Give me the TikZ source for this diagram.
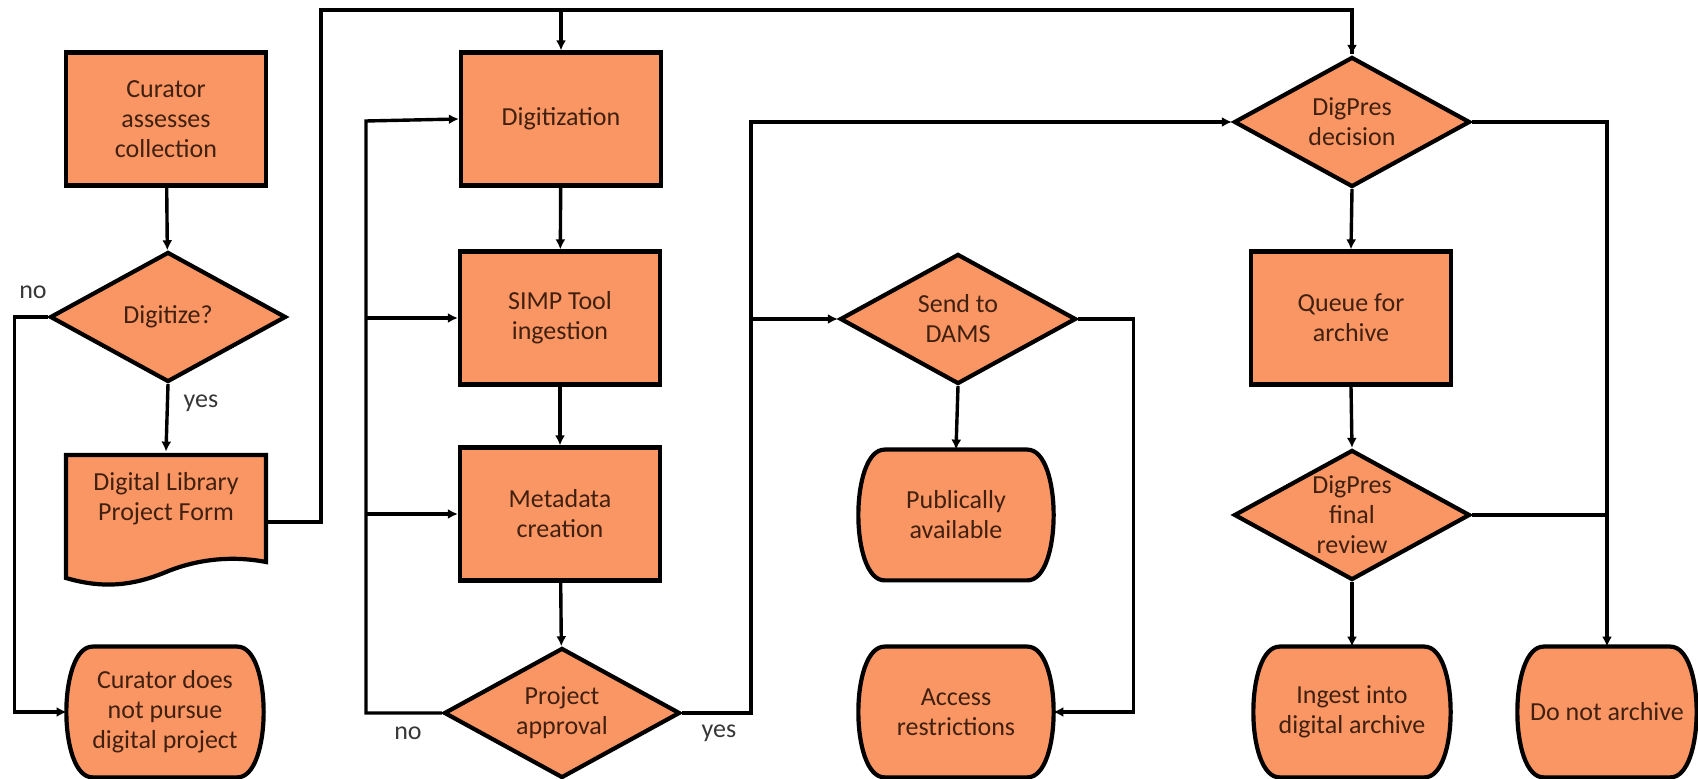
\documentclass[tikz,border=0pt]{standalone}
\usepackage{fontspec}
\setmainfont{Carlito}
\usetikzlibrary{shapes.geometric,arrows.meta,backgrounds,calc}
\definecolor{boxfill}{RGB}{250,150,100}
\definecolor{txt}{RGB}{65,32,15}
\definecolor{labtxt}{RGB}{55,55,55}
\tikzset{
  base/.style={font=\fontsize{13}{15}\selectfont, text=txt, align=center, inner sep=0pt},
  proc/.style={base, draw=black, line width=2.1pt, fill=boxfill, minimum width=100pt, minimum height=66.5pt},
  dia/.style={diamond, draw=black, line width=2.1pt, fill=boxfill, inner sep=0pt, minimum width=118pt, minimum height=65pt},
  dtext/.style={base},
  term/.style={base, rectangle, minimum width=98pt, minimum height=65pt},
  shapeline/.style={draw=black, line width=2.1pt, fill=boxfill},
  conn/.style={draw=black, line width=1.7pt},
  arr/.style={conn, -{Latex[length=5pt,width=5pt]}},
  lab/.style={font=\fontsize{13}{15}\selectfont, text=labtxt, inner sep=0pt}
}
\newcommand\termoutline[1]{%
  \path[shapeline] ($(#1.north west)+(26,0)$) -- ($(#1.north east)+(-26,0)$)
    .. controls ($(#1.north east)+(9,0)$) and ($(#1.south east)+(9,0)$) .. ($(#1.south east)+(-26,0)$)
    -- ($(#1.south west)+(26,0)$)
    .. controls ($(#1.south west)+(-9,0)$) and ($(#1.north west)+(-9,0)$) .. cycle;}
\begin{document}
\begin{tikzpicture}[x=0.5pt,y=-0.5pt]
\useasboundingbox (0,0) rectangle (1698,779);
% column 1
\node[proc] (cur) at (166,119) {Curator\\assesses\\collection};
\node[dia, label={[dtext]center:Digitize?}] (dig) at (168,317) {};
\node[term] (form) at (166,517) {Digital Library\\Project Form\\[6pt]};
\node[term] (notp) at (165,712) {Curator does\\not pursue\\digital project};
% column 2
\node[proc] (digi) at (561,119) {Digitization};
\node[proc] (simp) at (560,318) {SIMP Tool\\ingestion};
\node[proc] (meta) at (560,514) {Metadata\\creation};
\node[dia, label={[dtext]center:Project\\approval}] (appr) at (562,713) {};
% column 3
\node[dia, label={[dtext]center:Send to\\DAMS}] (dams) at (958,319) {};
\node[term, minimum width=97pt] (pub) at (956,515) {Publically\\available};
\node[term, minimum width=97pt] (acc) at (956,712) {Access\\restrictions};
% column 4
\node[dia, label={[dtext]center:DigPres\\decision}] (dec) at (1352,122) {};
\node[proc] (queue) at (1351,318) {Queue for\\archive};
\node[dia, label={[dtext]center:DigPres\\final\\review}] (fin) at (1352,515) {};
\node[term] (ing) at (1352,712) {Ingest into\\digital archive};
\node[term, minimum width=89pt] (dna) at (1607,712) {Do not archive};
% outlines of terminals and document
\begin{scope}[on background layer]
  \termoutline{notp}
  \termoutline{pub}
  \termoutline{acc}
  \termoutline{ing}
  \termoutline{dna}
  \path[shapeline] (66,455) -- (266,455) -- (266,562)
     .. controls (235,556) and (200,558) .. (166,572)
     .. controls (130,587) and (100,588) .. (66,578) -- cycle;
\end{scope}
% labels
\node[lab] (no1) at (33,292) {no};
\node[lab] (yes1) at (201,403) {yes};
\node[lab] (no2) at (408,733) {no};
\node[lab] (yes2) at (719,733) {yes};
% helper coordinates
\coordinate (top) at (0,10);
\coordinate (fb) at (366,121);
\coordinate (yb) at (751,122);
% connectors
\draw[arr] (cur) -- (dig);
\draw[arr] (dig.south) -- (form.north);
\draw[arr] (dig.west) -| ($(notp.west)+(-52,0)$) -- (notp.west);
\draw[conn] (266,522) -- (321,522) |- (top -| dec.north) -- ($(dec.north)+(0,-1)$);
\draw[arr] (top -| dec.north) -- (dec.north);
\draw[arr] (top -| digi.north) -- (digi.north);
\draw[arr] (digi) -- (simp);
\draw[arr] (simp) -- (meta);
\draw[arr] (meta) -- (appr);
\draw[arr] (appr.west) -| (fb) -- (digi.west);
\draw[arr] (simp.west -| fb) -- (simp.west);
\draw[arr] (meta.west -| fb) -- (meta.west);
\draw[arr] (appr.east) -| (yb) -- (dec.west);
\draw[arr] (dams.west -| yb) -- (dams.west);
\draw[arr] (dams.south) -- (pub.north);
\draw[arr] (dams.east) -| ($(acc.east)+(80,0)$) -- (acc.east);
\draw[arr] (dec.south) -- (queue.north);
\draw[arr] (queue.south) -- (fin.north);
\draw[arr] (fin.south) -- (ing.north);
\draw[arr] (dec.east) -| (dna.north);
\draw[conn] (fin.east) -- (fin.east -| dna.north);
\end{tikzpicture}
\end{document}
